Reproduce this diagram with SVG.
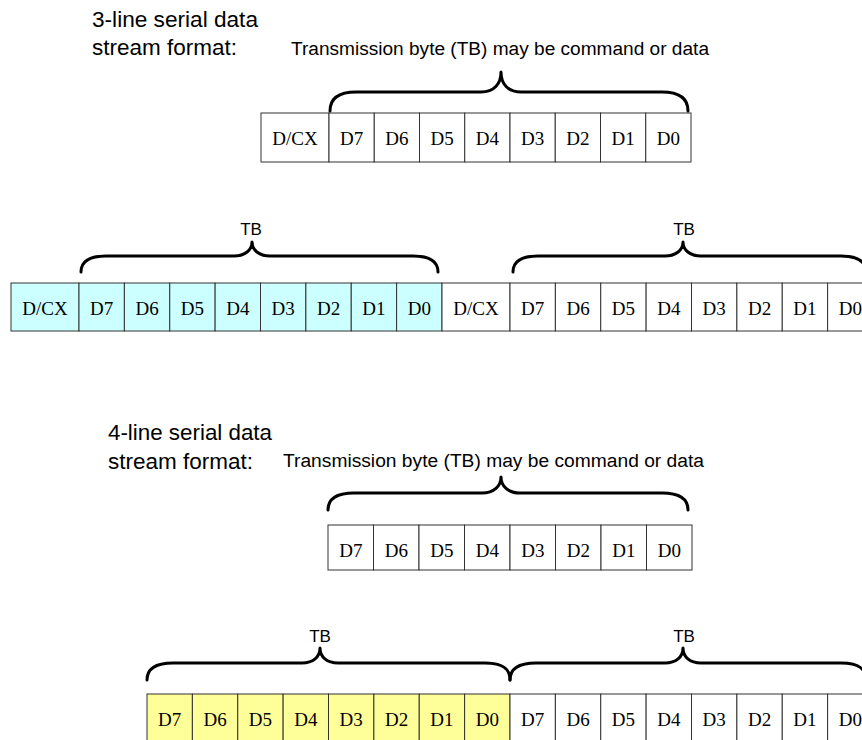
<svg xmlns="http://www.w3.org/2000/svg" width="862" height="740" viewBox="0 0 862 740">
  <style>
    .title { font-family: "Liberation Sans", Arial, sans-serif; font-size: 22px; fill: #000; }
    .note { font-family: "Liberation Sans", Arial, sans-serif; font-size: 18px; fill: #000; }
    .tb { font-family: "Liberation Sans", Arial, sans-serif; font-size: 17px; fill: #000; text-anchor: middle; }
    .cell rect { stroke: #333; stroke-width: 1; }
    .cell text { font-family: "Liberation Serif", "Times New Roman", serif; font-size: 19px; fill: #000; text-anchor: middle; }
    .plain rect { fill: #fff; }
    .cyan rect { fill: #ccffff; }
    .yellow rect { fill: #ffff99; }
    .brace { fill: none; stroke: #000; stroke-width: 3; stroke-linecap: round; stroke-linejoin: round; }
  </style>

  <rect width="862" height="740" fill="#fff"/>

  <!-- 3-line section headings -->
  <g id="heading-3line">
    <text class="title" x="92" y="27" textLength="166" lengthAdjust="spacingAndGlyphs">3-line serial data</text>
    <text class="title" x="92" y="55" textLength="145" lengthAdjust="spacingAndGlyphs">stream format:</text>
    <text class="note" x="291" y="55" textLength="418" lengthAdjust="spacingAndGlyphs">Transmission byte (TB) may be command or data</text>
  </g>

  <!-- 3-line single transmission byte -->
  <g id="frame-3line" class="cell plain">
    <rect x="261" y="113" width="68" height="49"/><text x="295" y="145">D/CX</text>
    <rect x="329" y="113" width="45.25" height="49"/><text x="351.6" y="145">D7</text>
    <rect x="374.25" y="113" width="45.25" height="49"/><text x="396.9" y="145">D6</text>
    <rect x="419.5" y="113" width="45.25" height="49"/><text x="442.1" y="145">D5</text>
    <rect x="464.75" y="113" width="45.25" height="49"/><text x="487.4" y="145">D4</text>
    <rect x="510" y="113" width="45.25" height="49"/><text x="532.6" y="145">D3</text>
    <rect x="555.25" y="113" width="45.25" height="49"/><text x="577.9" y="145">D2</text>
    <rect x="600.5" y="113" width="45.25" height="49"/><text x="623.1" y="145">D1</text>
    <rect x="645.75" y="113" width="45.25" height="49"/><text x="668.4" y="145">D0</text>
  </g>

  <!-- 3-line stream: first byte (cyan) -->
  <g id="stream-3line-tb1" class="cell cyan">
    <rect x="11" y="283" width="68" height="48"/><text x="45" y="315">D/CX</text>
    <rect x="79" y="283" width="45.375" height="48"/><text x="101.7" y="315">D7</text>
    <rect x="124.375" y="283" width="45.375" height="48"/><text x="147.1" y="315">D6</text>
    <rect x="169.75" y="283" width="45.375" height="48"/><text x="192.4" y="315">D5</text>
    <rect x="215.125" y="283" width="45.375" height="48"/><text x="237.8" y="315">D4</text>
    <rect x="260.5" y="283" width="45.375" height="48"/><text x="283.2" y="315">D3</text>
    <rect x="305.875" y="283" width="45.375" height="48"/><text x="328.6" y="315">D2</text>
    <rect x="351.25" y="283" width="45.375" height="48"/><text x="373.9" y="315">D1</text>
    <rect x="396.625" y="283" width="45.375" height="48"/><text x="419.3" y="315">D0</text>
  </g>

  <!-- 3-line stream: second byte -->
  <g id="stream-3line-tb2" class="cell plain">
    <rect x="442" y="283" width="68" height="48"/><text x="476" y="315">D/CX</text>
    <rect x="510" y="283" width="45.375" height="48"/><text x="532.7" y="315">D7</text>
    <rect x="555.375" y="283" width="45.375" height="48"/><text x="578.1" y="315">D6</text>
    <rect x="600.75" y="283" width="45.375" height="48"/><text x="623.4" y="315">D5</text>
    <rect x="646.125" y="283" width="45.375" height="48"/><text x="668.8" y="315">D4</text>
    <rect x="691.5" y="283" width="45.375" height="48"/><text x="714.2" y="315">D3</text>
    <rect x="736.875" y="283" width="45.375" height="48"/><text x="759.6" y="315">D2</text>
    <rect x="782.25" y="283" width="45.375" height="48"/><text x="804.9" y="315">D1</text>
    <rect x="827.625" y="283" width="45.375" height="48"/><text x="850.3" y="315">D0</text>
  </g>

  <!-- 4-line section headings -->
  <g id="heading-4line">
    <text class="title" x="108" y="440" textLength="164" lengthAdjust="spacingAndGlyphs">4-line serial data</text>
    <text class="title" x="108" y="469" textLength="145" lengthAdjust="spacingAndGlyphs">stream format:</text>
    <text class="note" x="283" y="467" textLength="421" lengthAdjust="spacingAndGlyphs">Transmission byte (TB) may be command or data</text>
  </g>

  <!-- 4-line single transmission byte -->
  <g id="frame-4line" class="cell plain">
    <rect x="328" y="525" width="45.5" height="45"/><text x="350.8" y="557">D7</text>
    <rect x="373.5" y="525" width="45.5" height="45"/><text x="396.3" y="557">D6</text>
    <rect x="419" y="525" width="45.5" height="45"/><text x="441.8" y="557">D5</text>
    <rect x="464.5" y="525" width="45.5" height="45"/><text x="487.3" y="557">D4</text>
    <rect x="510" y="525" width="45.5" height="45"/><text x="532.8" y="557">D3</text>
    <rect x="555.5" y="525" width="45.5" height="45"/><text x="578.3" y="557">D2</text>
    <rect x="601" y="525" width="45.5" height="45"/><text x="623.8" y="557">D1</text>
    <rect x="646.5" y="525" width="45.5" height="45"/><text x="669.3" y="557">D0</text>
  </g>

  <!-- 4-line stream: first byte (yellow) -->
  <g id="stream-4line-tb1" class="cell yellow">
    <rect x="147" y="694" width="45.375" height="50"/><text x="169.7" y="726">D7</text>
    <rect x="192.375" y="694" width="45.375" height="50"/><text x="215.1" y="726">D6</text>
    <rect x="237.75" y="694" width="45.375" height="50"/><text x="260.4" y="726">D5</text>
    <rect x="283.125" y="694" width="45.375" height="50"/><text x="305.8" y="726">D4</text>
    <rect x="328.5" y="694" width="45.375" height="50"/><text x="351.2" y="726">D3</text>
    <rect x="373.875" y="694" width="45.375" height="50"/><text x="396.6" y="726">D2</text>
    <rect x="419.25" y="694" width="45.375" height="50"/><text x="441.9" y="726">D1</text>
    <rect x="464.625" y="694" width="45.375" height="50"/><text x="487.3" y="726">D0</text>
  </g>

  <!-- 4-line stream: second byte -->
  <g id="stream-4line-tb2" class="cell plain">
    <rect x="510" y="694" width="45.375" height="50"/><text x="532.7" y="726">D7</text>
    <rect x="555.375" y="694" width="45.375" height="50"/><text x="578.1" y="726">D6</text>
    <rect x="600.75" y="694" width="45.375" height="50"/><text x="623.4" y="726">D5</text>
    <rect x="646.125" y="694" width="45.375" height="50"/><text x="668.8" y="726">D4</text>
    <rect x="691.5" y="694" width="45.375" height="50"/><text x="714.2" y="726">D3</text>
    <rect x="736.875" y="694" width="45.375" height="50"/><text x="759.6" y="726">D2</text>
    <rect x="782.25" y="694" width="45.375" height="50"/><text x="804.9" y="726">D1</text>
    <rect x="827.625" y="694" width="45.375" height="50"/><text x="850.3" y="726">D0</text>
  </g>

  <!-- TB labels -->
  <g id="tb-labels">
    <text class="tb" x="251" y="235">TB</text>
    <text class="tb" x="684" y="235">TB</text>
    <text class="tb" x="320" y="642">TB</text>
    <text class="tb" x="684" y="642">TB</text>
  </g>

  <!-- curly braces grouping each transmission byte -->
  <g id="braces">
    <path class="brace" d="M330,111 C330,99 338,92 356,92 L481,92 C494,92 501,84 501,72 C501,84 508,92 521,92 L662,92 C680,92 688,99 688,111"/>
    <path class="brace" d="M81,272 C81,262 88,256 106,256 L234,256 C245,256 252,250 252,242 C252,250 259,256 270,256 L413,256 C431,256 438,262 438,272"/>
    <path class="brace" d="M513,272 C513,262 520,256 538,256 L665,256 C676,256 683,250 683,242 C683,250 690,256 701,256 L841,256 C859,256 866,262 866,272"/>
    <path class="brace" d="M328,510 C328,499 336,493 354,493 L482,493 C494,493 501,486 501,477 C501,486 508,493 520,493 L662,493 C680,493 688,499 688,510"/>
    <path class="brace" d="M147,680 C147,669 155,663 173,663 L302,663 C313,663 320,657 320,648 C320,657 327,663 338,663 L485,663 C503,663 510,669 510,680"/>
    <path class="brace" d="M510,680 C510,669 518,663 536,663 L665,663 C676,663 683,657 683,648 C683,657 690,663 701,663 L841,663 C859,663 866,669 866,680"/>
  </g>
</svg>
